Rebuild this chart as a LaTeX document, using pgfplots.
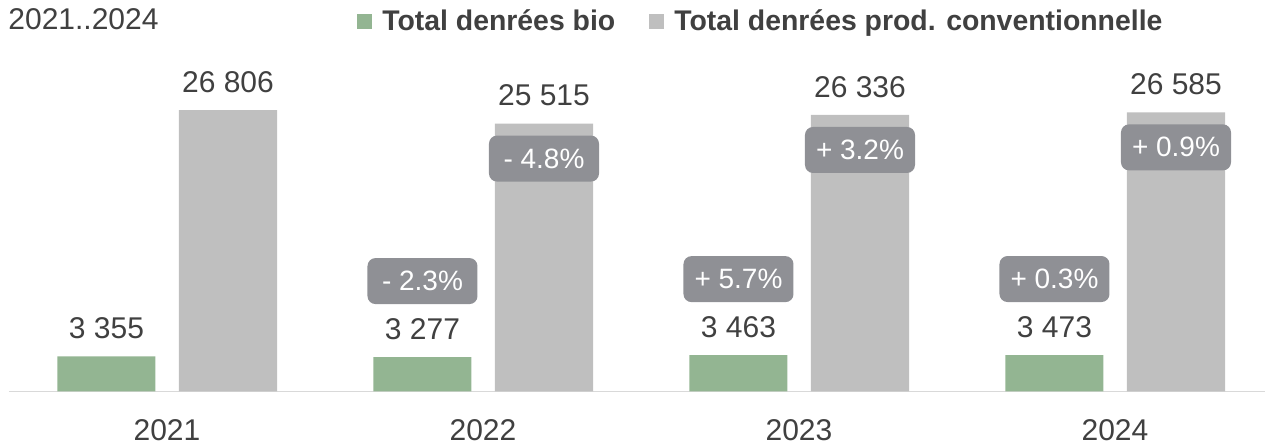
\documentclass[border=0pt]{standalone}
\usepackage{pgfplots}
\pgfplotsset{compat=1.18}
\usepackage{pgfplotstable}
\usepackage{fontspec}
\setmainfont{Liberation Sans}
\definecolor{bio}{RGB}{147,181,146}
\definecolor{conv}{RGB}{191,191,191}
\definecolor{boxg}{RGB}{143,144,149}
\definecolor{txt}{RGB}{64,64,64}
\definecolor{axl}{RGB}{217,217,217}
\pgfplotstableread{
x bio conv
0 3355 26806
1 3277 25515
2 3463 26336
3 3473 26585
}\data
\begin{document}
\begin{tikzpicture}
\path[use as bounding box] (0,0) rectangle (632.5pt,222.5pt);
\node[anchor=base west, inner sep=0pt, text=txt, font=\fontsize{15}{18}\selectfont] at (4pt,207.5pt) {2021..2024};
\begin{axis}[
  at={(4.5pt,26.75pt)}, anchor=south west,
  scale only axis, width=628pt, height=195.75pt,
  xmin=-0.5, xmax=3.4747, ymin=0, ymax=37286,
  ybar, bar width=49pt,
  clip=false,
  axis y line=none,
  axis x line=bottom,
  x axis line style={-, draw=axl, line width=0.9pt},
  xtick={0,1,2,3},
  xticklabels={2021,2022,2023,2024},
  major tick length=0pt,
  xticklabel style={anchor=base, yshift=-24.6pt, text=txt, font=\fontsize{15}{18}\selectfont},
  legend columns=2,
  legend style={at={(axis description cs:0.277,0.944)}, anchor=west, draw=none, fill=none, inner sep=0pt,
    font=\fontsize{14.2}{16}\selectfont\bfseries, text=txt,
    nodes={inner sep=0pt},
    /tikz/every odd column/.append style={column sep=5pt},
    /tikz/every even column/.append style={column sep=17pt}},
  legend image code/.code={\fill[#1] (0pt,-3.75pt) rectangle (7.5pt,3.75pt);},
  valuelab/.style={nodes near coords={\pgfmathprintnumber[assume math mode=true, 1000 sep={\ }, fixed, precision=0]{\pgfplotspointmeta}},
    every node near coord/.append style={anchor=base, inner sep=0pt, yshift=8.9pt, text=txt, font=\fontsize{15}{18}\selectfont}},
  pctlab/.style={draw=none, fill=none, forget plot, point meta=explicit symbolic, nodes near coords,
    every node near coord/.append style={anchor=center, yshift=#1, fill=boxg, text=white, rounded corners=4pt,
      minimum width=55pt, minimum height=23pt, inner sep=0pt, font=\fontsize{14}{17}\selectfont}},
]
\addplot[fill=bio, draw=none, bar shift=-30.25pt, valuelab] table[x=x, y=bio] {\data};
\addlegendentry{Total denrées bio}
\addplot[fill=conv, draw=none, bar shift=30.5pt, valuelab] table[x=x, y=conv] {\data};
\addlegendentry{Total denrées prod. conventionnelle}
\addplot[bar shift=-30.25pt, pctlab=38pt] coordinates {(1,3277) [- 2.3\%] (2,3463) [+ 5.7\%] (3,3473) [+ 0.3\%]};
\addplot[bar shift=30.5pt, pctlab=-17.5pt] coordinates {(1,25515) [- 4.8\%] (2,26336) [+ 3.2\%] (3,26585) [+ 0.9\%]};
\end{axis}
\end{tikzpicture}
\end{document}
